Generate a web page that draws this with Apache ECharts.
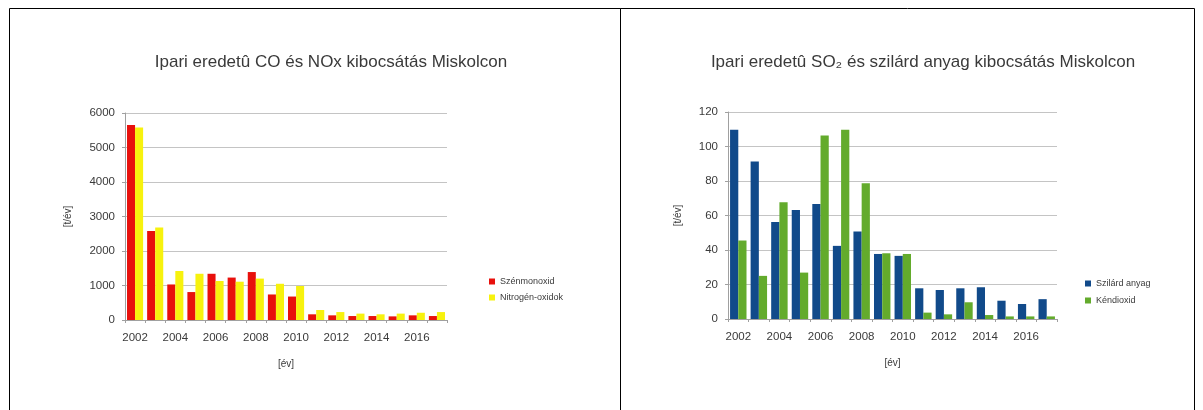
<!DOCTYPE html>
<html>
<head>
<meta charset="utf-8">
<script src="https://cdn.jsdelivr.net/npm/echarts@6/dist/echarts.min.js"></script>
<style>
  html, body { margin: 0; padding: 0; background: #fff; }
  #chart { width: 1203px; height: 410px; }
</style>
</head>
<body>
<div id="chart"></div>
<script>
// Years shared by both panels
const years = ['2002','2003','2004','2005','2006','2007','2008','2009','2010','2011','2012','2013','2014','2015','2016','2017'];

// Left panel: CO and NOx emissions [t/év]
const szenmonoxid    = [5650, 2580, 1030, 810, 1340, 1230, 1390, 740, 680, 165, 135, 115, 115, 105, 135, 115];
const nitrogenOxidok = [5580, 2680, 1420, 1340, 1130, 1110, 1200, 1050, 985, 290, 230, 185, 165, 185, 210, 230];

// Right panel: particulate matter and SO2 emissions [t/év]
const szilardAnyag = [109.7, 91.3, 56.3, 63.2, 66.7, 42.4, 50.7, 37.7, 36.6, 17.8, 16.8, 17.8, 18.4, 10.6, 8.7, 11.5];
const kendioxid    = [45.5, 25, 67.7, 26.9, 106.4, 109.7, 78.7, 38.1, 37.7, 3.7, 2.7, 9.7, 2.3, 1.5, 1.5, 1.5];

const titles = ['Ipari eredetû CO és NOx kibocsátás Miskolcon', 'Ipari eredetû SO₂ és szilárd anyag kibocsátás Miskolcon'];
const yName = '[t/év]';
const xName = '[év]';

const font = '"Liberation Sans", Arial, sans-serif';
const txt = '#3a3a3a';

function xAxisFor(gridIndex) {
  return {
    type: 'category', gridIndex, data: years,
    axisLine: { lineStyle: { color: '#a0a0a0' } },
    axisTick: { show: true, interval: 0, length: 3, lineStyle: { color: '#a0a0a0' } },
    axisLabel: { interval: 1, color: txt, fontSize: 11.5, fontFamily: font, margin: 12 },
    name: xName, nameLocation: 'middle', nameGap: 39,
    nameTextStyle: { color: txt, fontSize: 10, fontFamily: font }
  };
}

function yAxisFor(gridIndex, max, interval, nameGap) {
  return {
    type: 'value', gridIndex, min: 0, max, interval,
    axisLine: { show: true, lineStyle: { color: '#a0a0a0' } },
    axisTick: { show: true, length: 3, lineStyle: { color: '#a0a0a0' } },
    axisLabel: { color: txt, fontSize: 11.5, fontFamily: font, margin: 10,
                 formatter: (v) => String(v) },
    splitLine: { lineStyle: { color: '#c4c4c4' } },
    name: yName, nameLocation: 'middle', nameRotate: 90, nameGap,
    nameTextStyle: { color: txt, fontSize: 10, fontFamily: font }
  };
}

function barSeries(name, data, color, axisIndex) {
  return {
    name, type: 'bar', data,
    xAxisIndex: axisIndex, yAxisIndex: axisIndex,
    barGap: '0%', barCategoryGap: '20%',
    itemStyle: { color },
    emphasis: { disabled: true }
  };
}

const chart = echarts.init(document.getElementById('chart'), null, { renderer: 'canvas' });

chart.setOption({
  animation: false,
  backgroundColor: '#ffffff',
  title: [
    { text: titles[0], left: 326, top: 49, textAlign: 'center',
      textStyle: { color: '#3a3a3a', fontSize: 17, fontWeight: 'normal', fontFamily: font } },
    { text: titles[1], left: 918, top: 49, textAlign: 'center',
      textStyle: { color: '#3a3a3a', fontSize: 17, fontWeight: 'normal', fontFamily: font } }
  ],
  grid: [
    { left: 125, top: 113, width: 322, height: 207 },
    { left: 728, top: 112, width: 329, height: 207 }
  ],
  xAxis: [xAxisFor(0), xAxisFor(1)],
  yAxis: [yAxisFor(0, 6000, 1000, 52), yAxisFor(1, 120, 20, 45)],
  legend: [
    { data: ['Szénmonoxid', 'Nitrogén-oxidok'], orient: 'vertical', left: 484, top: 272,
      itemWidth: 6, itemHeight: 6, itemGap: 7, icon: 'rect',
      textStyle: { color: txt, fontSize: 9, fontFamily: font } },
    { data: ['Szilárd anyag', 'Kéndioxid'], orient: 'vertical', left: 1080, top: 274,
      itemWidth: 6, itemHeight: 6, itemGap: 8, icon: 'rect',
      textStyle: { color: txt, fontSize: 9, fontFamily: font } }
  ],
  series: [
    barSeries('Szénmonoxid', szenmonoxid, '#e8100c', 0),
    barSeries('Nitrogén-oxidok', nitrogenOxidok, '#f7f20e', 0),
    barSeries('Szilárd anyag', szilardAnyag, '#114a8a', 1),
    barSeries('Kéndioxid', kendioxid, '#63ab2c', 1)
  ],
  graphic: [
    { type: 'rect', shape: { x: 9.5, y: 8.5, width: 611, height: 420 }, style: { fill: null, stroke: '#000', lineWidth: 1 }, silent: true },
    { type: 'rect', shape: { x: 620.5, y: 8.5, width: 574, height: 420 }, style: { fill: null, stroke: '#000', lineWidth: 1 }, silent: true }
  ]
});
</script>
</body>
</html>
